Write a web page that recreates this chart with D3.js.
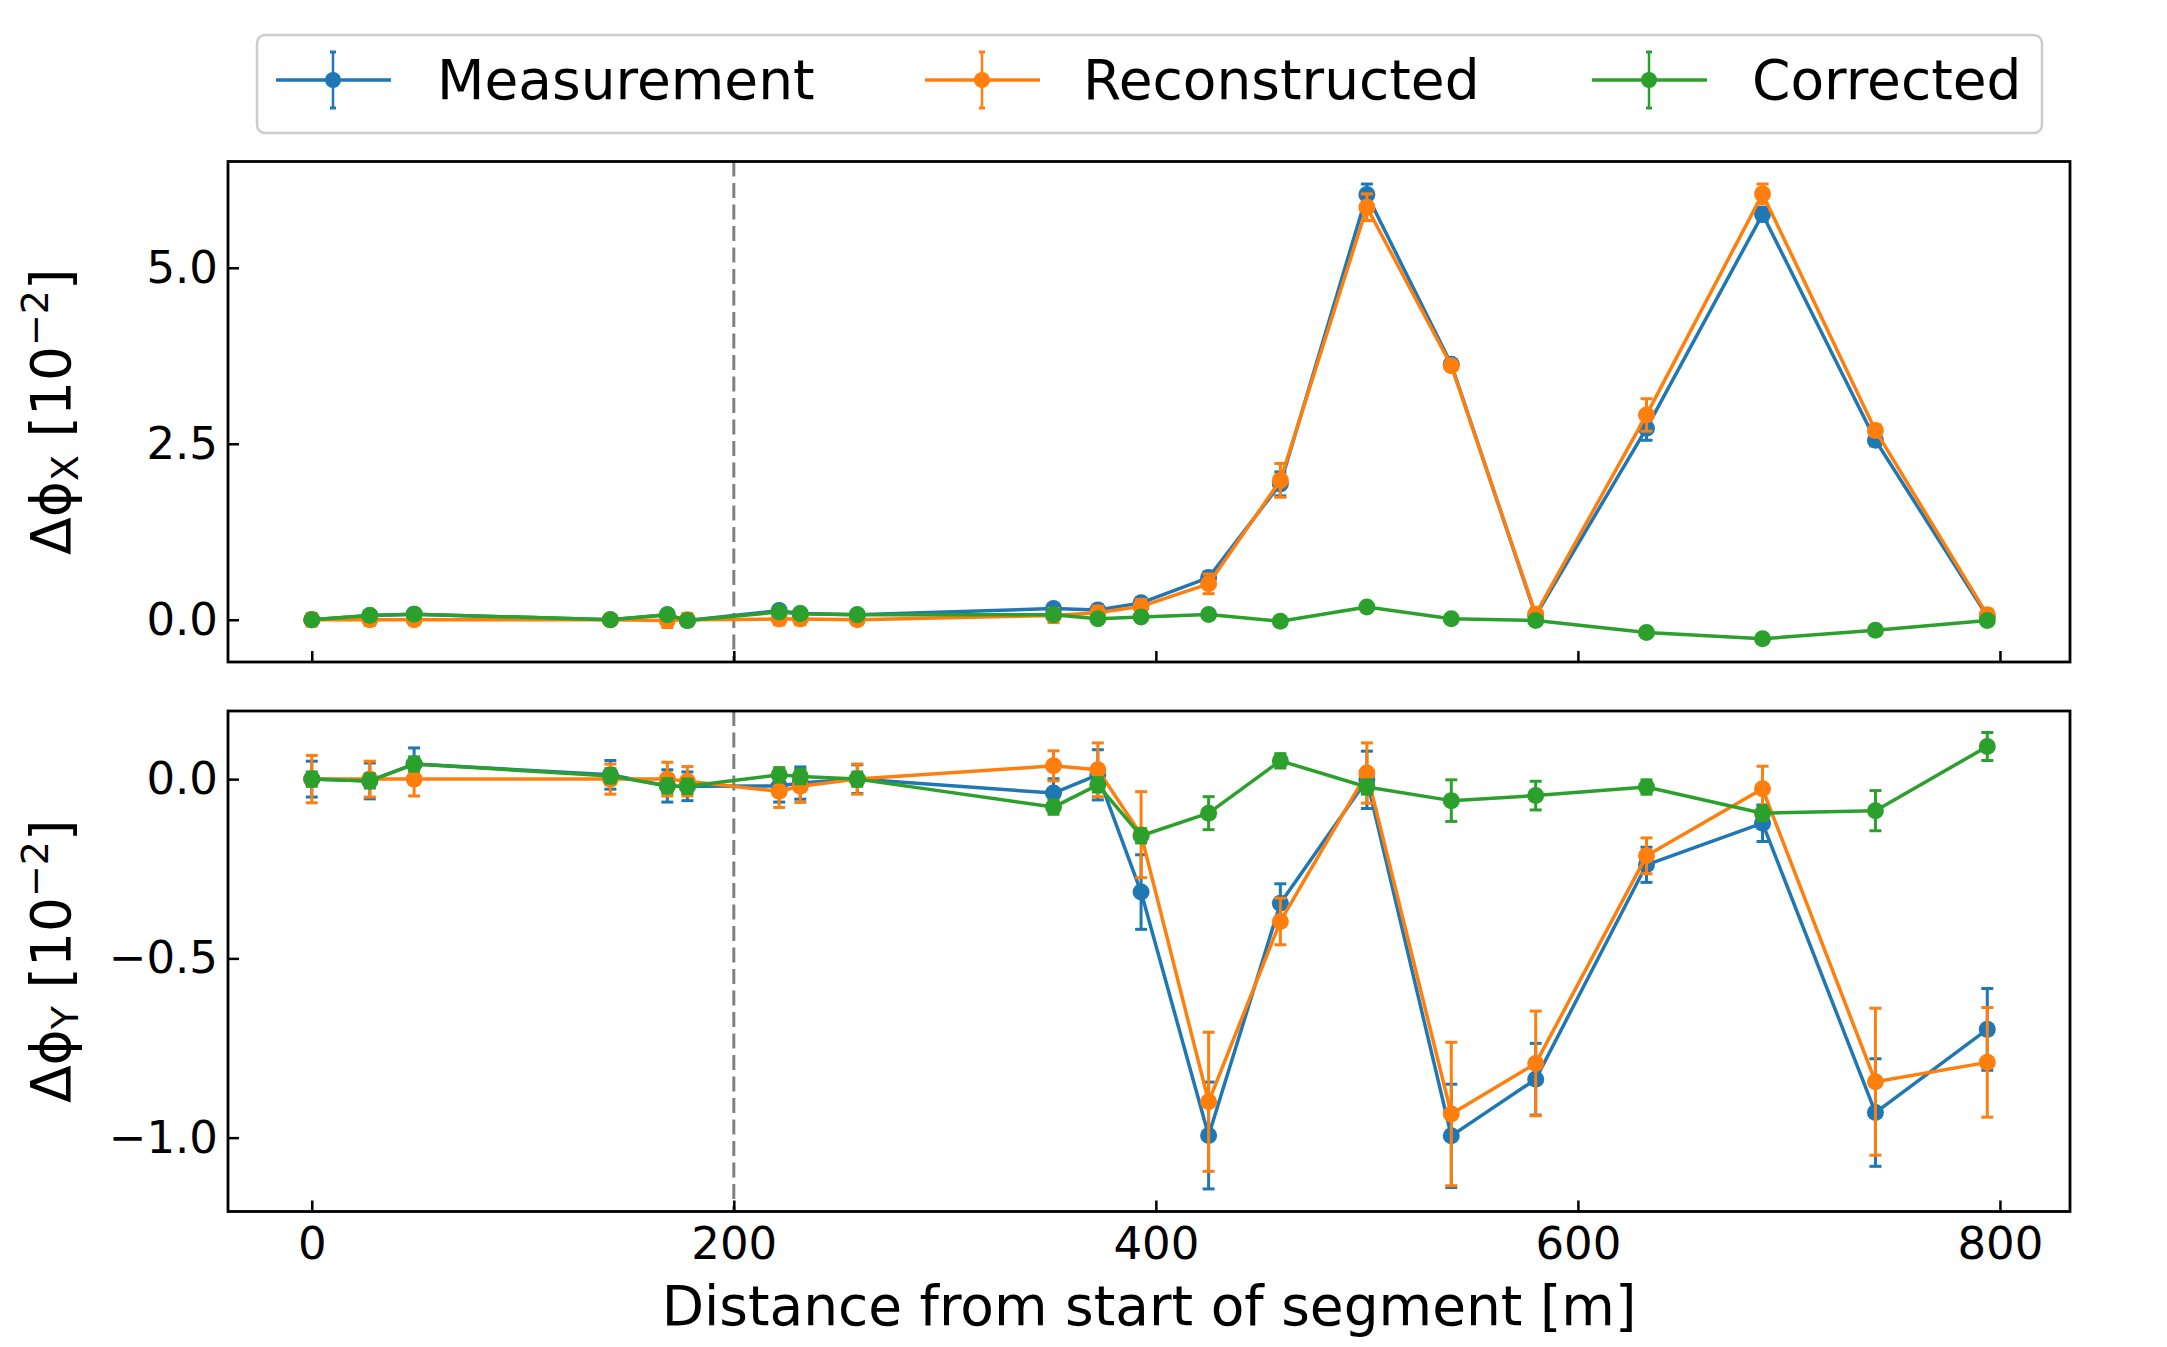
<!DOCTYPE html>
<html>
<head>
<meta charset="utf-8">
<script src="https://cdn.jsdelivr.net/npm/d3@7"></script>
<style>
  body { margin: 0; background: white; }
  svg { display: block; font-family: "DejaVu Sans", sans-serif; }
</style>
</head>
<body>
<svg id="chart"></svg>
<script>
// distance from start of segment [m]
const distance = [0, 27.5, 48.5, 141.5, 168.5, 178, 221.5, 231.5, 258.5, 351.5, 372.5, 393, 425, 459, 500, 540, 580, 632.5, 687.5, 741, 794];

// delta phi X [1e-2]
const measX = [0, 0.06, 0.08, 0, 0.07, -0.01, 0.13, 0.09, 0.07, 0.16, 0.14, 0.24, 0.6, 1.93, 6.04, 3.63, 0.06, 2.72, 5.76, 2.55, 0.05];
const recX  = [0, 0, 0, 0, -0.01, 0, 0.01, 0.01, 0, 0.06, 0.1, 0.19, 0.51, 1.98, 5.86, 3.61, 0.08, 2.91, 6.05, 2.69, 0.07];
const corrX = [0, 0.06, 0.08, 0, 0.07, -0.01, 0.11, 0.085, 0.07, 0.07, 0.015, 0.04, 0.075, -0.02, 0.18, 0.014, -0.01, -0.18, -0.27, -0.15, -0.01];
const measXErr = [0.05, 0.05, 0.05, 0.04, 0.05, 0.05, 0.05, 0.05, 0.05, 0.06, 0.07, 0.07, 0.08, 0.17, 0.15, 0.06, 0.06, 0.17, 0.1, 0.08, 0.06];
const recXErr  = [0.09, 0.08, 0.07, 0.07, 0.1, 0.09, 0.08, 0.08, 0.07, 0.1, 0.09, 0.1, 0.14, 0.24, 0.19, 0.06, 0.08, 0.23, 0.14, 0.08, 0.08];
const corrXErr = [0.03, 0.03, 0.03, 0.03, 0.03, 0.03, 0.03, 0.03, 0.03, 0.03, 0.03, 0.03, 0.03, 0.03, 0.03, 0.03, 0.03, 0.03, 0.03, 0.03, 0.03];

// delta phi Y [1e-2]
const measY = [0, -0.005, 0.042, 0.012, -0.019, -0.02, -0.019, -0.011, 0, -0.039, 0.012, -0.315, -0.994, -0.346, -0.002, -0.995, -0.837, -0.239, -0.123, -0.93, -0.698];
const recY  = [0, 0, 0, 0, 0, -0.006, -0.034, -0.02, 0, 0.037, 0.026, -0.155, -0.9, -0.397, 0.017, -0.934, -0.793, -0.214, -0.027, -0.844, -0.79];
const corrY = [0, -0.005, 0.042, 0.009, -0.019, -0.02, 0.012, 0.007, 0, -0.078, -0.016, -0.158, -0.095, 0.051, -0.022, -0.06, -0.046, -0.022, -0.095, -0.088, 0.091];
const measYErr = [0.05, 0.05, 0.045, 0.04, 0.045, 0.04, 0.045, 0.045, 0.04, 0.04, 0.07, 0.104, 0.149, 0.054, 0.08, 0.144, 0.1, 0.049, 0.051, 0.15, 0.114];
const recYErr  = [0.066, 0.05, 0.047, 0.042, 0.047, 0.041, 0.045, 0.045, 0.042, 0.042, 0.075, 0.12, 0.194, 0.065, 0.084, 0.2, 0.146, 0.05, 0.063, 0.205, 0.153];
const corrYErr = [0.02, 0.02, 0.02, 0.02, 0.02, 0.02, 0.02, 0.02, 0.02, 0.02, 0.02, 0.02, 0.046, 0.02, 0.02, 0.058, 0.04, 0.02, 0.02, 0.056, 0.039];

const seriesNames = ["Measurement", "Reconstructed", "Corrected"];
const colors = ["#1f77b4", "#ff7f0e", "#2ca02c"];
const xTicks = [0, 200, 400, 600, 800];
const topTicks = [0, 2.5, 5];
const bottomTicks = [-1, -0.5, 0];
const markerLine = 200;

//layout
const w = 2167;
const h = 1347;
const leftEdge = 228;
const rightEdge = 2070;

const svg = d3.select("#chart").attr("width", w).attr("height", h);

const xScale = d3.scaleLinear().domain([-39.7, 833.2]).range([leftEdge, rightEdge]);

const panels = [
  { top: 161.5, bottom: 662, domain: [-0.6, 6.51], ticks: topTicks, sub: "X",
    values: [measX, recX, corrX], errors: [measXErr, recXErr, corrXErr], xLabels: false },
  { top: 711, bottom: 1211.5, domain: [-1.206, 0.19], ticks: bottomTicks, sub: "Y",
    values: [measY, recY, corrY], errors: [measYErr, recYErr, corrYErr], xLabels: true }
];

panels.forEach(p => {
  const yScale = d3.scaleLinear().domain(p.domain).range([p.bottom, p.top]);

  // dashed marker at 200 m
  svg.append("line")
     .attr("x1", xScale(markerLine)).attr("x2", xScale(markerLine))
     .attr("y1", p.top).attr("y2", p.bottom)
     .style("stroke", "#808080").style("stroke-width", 3)
     .style("stroke-dasharray", "15,6.5");

  p.values.forEach((vals, s) => {
    const errs = p.errors[s];
    const g = svg.append("g");
    const pts = distance.map((d, i) => ({ x: d, y: vals[i], e: errs[i] }));

    // error bars
    g.selectAll(".bar").data(pts).enter().append("line")
     .attr("x1", d => xScale(d.x)).attr("x2", d => xScale(d.x))
     .attr("y1", d => yScale(d.y - d.e)).attr("y2", d => yScale(d.y + d.e))
     .style("stroke", colors[s]).style("stroke-width", 3);
    [-1, 1].forEach(sign => {
      g.selectAll(".cap" + sign).data(pts).enter().append("line")
       .attr("x1", d => xScale(d.x) - 6).attr("x2", d => xScale(d.x) + 6)
       .attr("y1", d => yScale(d.y + sign * d.e)).attr("y2", d => yScale(d.y + sign * d.e))
       .style("stroke", colors[s]).style("stroke-width", 3);
    });

    const line = d3.line().x(d => xScale(d.x)).y(d => yScale(d.y));
    g.append("path").datum(pts).attr("d", line)
     .style("fill", "none").style("stroke", colors[s]).style("stroke-width", 3.5)
     .style("stroke-linejoin", "round");

    g.selectAll("circle").data(pts).enter().append("circle")
     .attr("cx", d => xScale(d.x)).attr("cy", d => yScale(d.y)).attr("r", 8.5)
     .style("fill", colors[s]);
  });

  // axes with inward ticks
  const yAxis = d3.axisLeft(yScale).tickValues(p.ticks).tickSize(-11).tickSizeOuter(0)
                  .tickPadding(10).tickFormat(d3.format(".1f"));
  const xAxis = d3.axisBottom(xScale).tickValues(xTicks).tickSize(-11).tickSizeOuter(0)
                  .tickPadding(16).tickFormat(p.xLabels ? d3.format("d") : "");

  [svg.append("g").attr("transform", `translate(${leftEdge}, 0)`).call(yAxis),
   svg.append("g").attr("transform", `translate(0, ${p.bottom})`).call(xAxis)].forEach(ax => {
    ax.select(".domain").remove();
    ax.selectAll(".tick line").style("stroke", "black").style("stroke-width", 2.5);
    ax.selectAll(".tick text").style("font-size", "45px").style("fill", "black")
      .style("font-family", "DejaVu Sans");
  });

  svg.append("rect")
     .attr("x", leftEdge).attr("y", p.top)
     .attr("width", rightEdge - leftEdge).attr("height", p.bottom - p.top)
     .style("fill", "none").style("stroke", "black").style("stroke-width", 2.8);

  // y-axis title
  const label = svg.append("text")
     .attr("transform", `translate(70, ${(p.top + p.bottom) / 2}) rotate(-90)`)
     .attr("text-anchor", "middle")
     .style("font-size", "55px");
  label.append("tspan").text("Δϕ");
  label.append("tspan").text(p.sub).style("font-size", "38px").attr("dy", 8);
  label.append("tspan").text(" [10").attr("dy", -8);
  label.append("tspan").text("−2").style("font-size", "38px").attr("dy", -22);
  label.append("tspan").text("]").attr("dy", 22);
});

//x-axis title
svg.append("text")
   .attr("x", (leftEdge + rightEdge) / 2).attr("y", 1325)
   .attr("text-anchor", "middle")
   .style("font-size", "55px")
   .text("Distance from start of segment [m]");

// Handmade legend
svg.append("rect").attr("x", 257).attr("y", 35).attr("width", 1785).attr("height", 98).attr("rx", 8)
   .style("fill", "white").style("stroke", "#cccccc").style("stroke-width", 2.5);

const handleX = [276, 925, 1592];
const textX = [437, 1083, 1752];
seriesNames.forEach((name, s) => {
  const cx = handleX[s] + 57;
  svg.append("line").attr("x1", handleX[s]).attr("x2", handleX[s] + 115).attr("y1", 80).attr("y2", 80)
     .style("stroke", colors[s]).style("stroke-width", 3.5);
  svg.append("line").attr("x1", cx).attr("x2", cx).attr("y1", 52).attr("y2", 108)
     .style("stroke", colors[s]).style("stroke-width", 2.5);
  [52, 108].forEach(y => {
    svg.append("line").attr("x1", cx - 3).attr("x2", cx + 3).attr("y1", y).attr("y2", y)
       .style("stroke", colors[s]).style("stroke-width", 3);
  });
  svg.append("circle").attr("cx", cx).attr("cy", 80).attr("r", 8).style("fill", colors[s]);
  svg.append("text").attr("x", textX[s]).attr("y", 99).style("font-size", "55px").text(name);
});
</script>
</body>
</html>
